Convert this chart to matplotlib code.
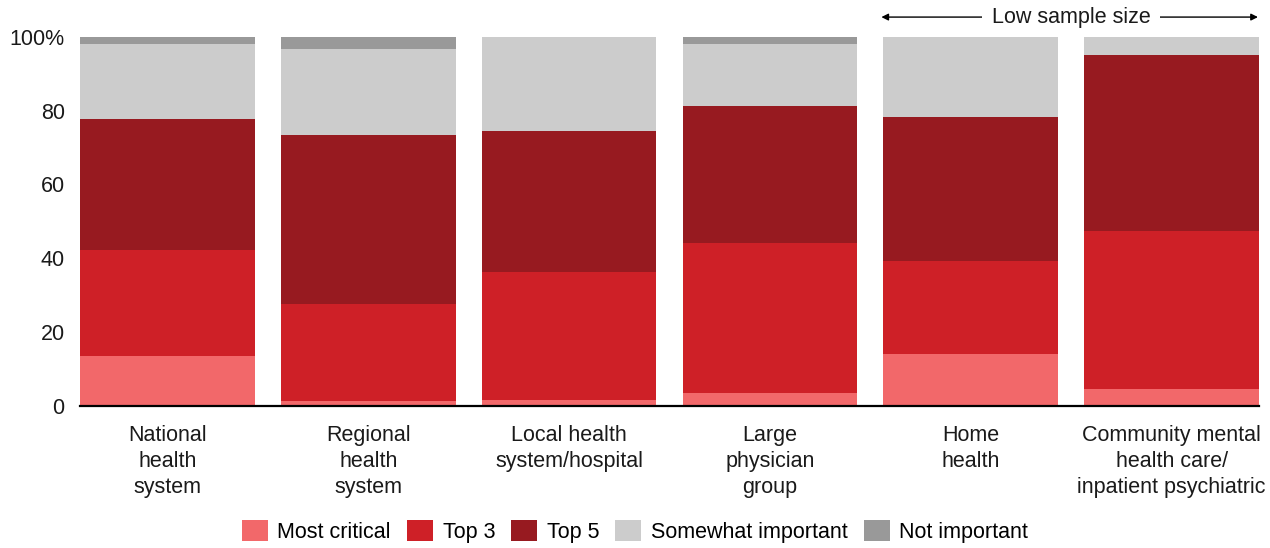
import matplotlib
matplotlib.use("Agg")
import numpy as np
import matplotlib.pyplot as plt
import matplotlib.transforms as mtransforms

plt.rcParams['font.family'] = ['Liberation Sans', 'DejaVu Sans']
plt.rcParams['font.size'] = 15.5

# 机构类别
categories = [
    "National\nhealth\nsystem",
    "Regional\nhealth\nsystem",
    "Local health\nsystem/hospital",
    "Large\nphysician\ngroup",
    "Home\nhealth",
    "Community mental\nhealth care/\ninpatient psychiatric",
]

# 各重要程度占比 (%)
most_critical = [13.5, 1.3, 1.5, 3.4, 14.0, 4.5]
top_3 = [28.8, 26.3, 34.7, 40.7, 25.2, 42.9]
top_5 = [35.5, 45.9, 38.3, 37.2, 39.1, 47.7]
somewhat_important = [20.3, 23.2, 25.5, 16.8, 21.7, 4.9]
not_important = [1.9, 3.3, 0.0, 1.9, 0.0, 0.0]

series = [
    ("Most critical", most_critical, "#f2686a"),
    ("Top 3", top_3, "#ce2027"),
    ("Top 5", top_5, "#971a20"),
    ("Somewhat important", somewhat_important, "#cccccc"),
    ("Not important", not_important, "#999999"),
]

fig = plt.figure(figsize=(12.7, 5.48), dpi=100)
ax = fig.add_axes([0.063, 0.2597, 0.9283, 0.6728])

x = np.arange(len(categories))
width = 0.87
bottom = np.zeros(len(categories))
for name, vals, color in series:
    vals = np.array(vals)
    ax.bar(x, vals, width, bottom=bottom, color=color, label=name, linewidth=0)
    bottom += vals

ax.set_xlim(-0.435, 5.435)
ax.set_ylim(0, 100)
ax.set_yticks([0, 20, 40, 60, 80, 100])
ax.set_yticklabels(["0", "20", "40", "60", "80", "100%"])
ax.set_xticks(x)
ax.set_xticklabels(categories)
for lab in ax.get_xticklabels():
    lab.set_linespacing(1.3)
ax.tick_params(axis='y', length=0, pad=11, labelsize=15.5, colors='#1a1a1a')
ax.tick_params(axis='x', length=0, pad=14, labelsize=15.5, colors='#1a1a1a')

for side in ['top', 'right', 'left']:
    ax.spines[side].set_visible(False)
ax.spines['bottom'].set_linewidth(1.6)
ax.spines['bottom'].set_color('black')
ax.spines['bottom'].set_zorder(5)

# 小样本标注
trans = mtransforms.blended_transform_factory(ax.transData, ax.transAxes)
y_arrow = 1.054
ax.annotate('', xy=(3.555, y_arrow), xytext=(5.43, y_arrow), xycoords=trans,
            textcoords=trans,
            arrowprops=dict(arrowstyle='<|-|>', color='black', lw=1.0,
                            mutation_scale=10, shrinkA=0, shrinkB=0),
            annotation_clip=False)
ax.text(4.5, y_arrow, "Low sample size", transform=trans, ha='center', va='center',
        fontsize=15.5, color='#1a1a1a',
        bbox=dict(facecolor='white', edgecolor='none', pad=7), clip_on=False)

fig.legend(loc='center', bbox_to_anchor=(0.5, 0.030), ncol=5, frameon=False,
           fontsize=15.5, handlelength=1.2, handleheight=1.15, handletextpad=0.45,
           columnspacing=0.75, borderpad=0, borderaxespad=0)

fig.savefig("out.png", dpi=100)
